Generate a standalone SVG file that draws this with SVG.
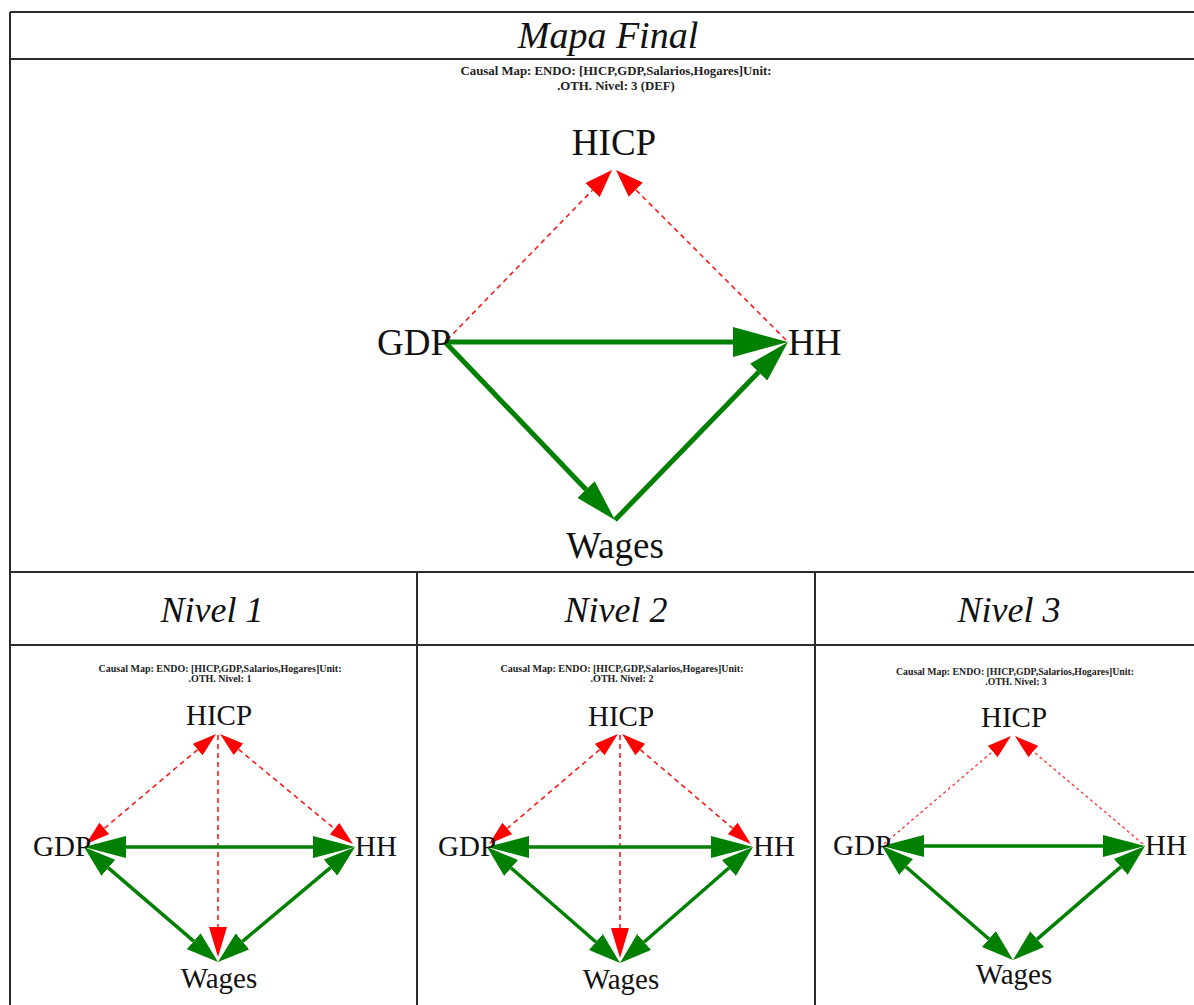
<svg xmlns="http://www.w3.org/2000/svg" width="1194" height="1005" viewBox="0 0 1194 1005">
<style>
.grid{stroke:#2b2b2b;stroke-width:2;fill:none}
.hdr{font-family:"Liberation Serif",serif;font-style:italic;fill:#111;text-anchor:middle}
.cap{font-family:"Liberation Serif",serif;font-weight:bold;fill:#222;text-anchor:middle}
.lbl{font-family:"Liberation Serif",serif;fill:#111}
.mid{text-anchor:middle}
.gT{stroke:#008000;stroke-width:5;fill:none}
.gB{stroke:#008000;stroke-width:3.5;fill:none}
.rd{stroke:#ff1a1a;stroke-width:1.6;stroke-dasharray:5 4;fill:none}
.rdot{stroke:#ff3333;stroke-width:1.3;stroke-dasharray:3 3;fill:none}
</style>
<defs>
<marker id="gTh" markerUnits="userSpaceOnUse" markerWidth="56" markerHeight="30" refX="0" refY="15" orient="auto-start-reverse"><path d="M0,0 L55,15 L0,30 Z" fill="#008000"/></marker>
<marker id="gTd" markerUnits="userSpaceOnUse" markerWidth="43" markerHeight="24" refX="0" refY="12" orient="auto-start-reverse"><path d="M0,0 L42,12 L0,24 Z" fill="#008000"/></marker>
<marker id="gBh" markerUnits="userSpaceOnUse" markerWidth="43" markerHeight="22" refX="0" refY="11" orient="auto-start-reverse"><path d="M0,0 L42,11 L0,22 Z" fill="#008000"/></marker>
<marker id="gBd" markerUnits="userSpaceOnUse" markerWidth="33" markerHeight="21" refX="0" refY="10.5" orient="auto-start-reverse"><path d="M0,0 L32,10.5 L0,21 Z" fill="#008000"/></marker>
<marker id="rT" markerUnits="userSpaceOnUse" markerWidth="29" markerHeight="20" refX="0" refY="10" orient="auto-start-reverse"><path d="M0,0 L28,10 L0,20 Z" fill="#ff0000"/></marker>
<marker id="rB" markerUnits="userSpaceOnUse" markerWidth="25" markerHeight="15" refX="0" refY="7.5" orient="auto-start-reverse"><path d="M0,0 L24,7.5 L0,15 Z" fill="#ff0000"/></marker>
<marker id="rV" markerUnits="userSpaceOnUse" markerWidth="31" markerHeight="18" refX="0" refY="9" orient="auto-start-reverse"><path d="M0,0 L30,9 L0,18 Z" fill="#ff0000"/></marker>
</defs>
<rect width="1194" height="1005" fill="#fff"/>

<g id="table">
<line class="grid" x1="10" y1="12" x2="1194" y2="12"/>
<line class="grid" x1="10" y1="59" x2="1194" y2="59"/>
<line class="grid" x1="10" y1="572" x2="1194" y2="572"/>
<line class="grid" x1="10" y1="645" x2="1194" y2="645"/>
<line class="grid" x1="10" y1="12" x2="10" y2="1005"/>
<line class="grid" x1="417" y1="572" x2="417" y2="1005"/>
<line class="grid" x1="815" y1="572" x2="815" y2="1005"/>
<text class="hdr" x="608" y="48" font-size="38">Mapa Final</text>
<text class="hdr" x="212" y="622" font-size="36">Nivel 1</text>
<text class="hdr" x="616" y="622" font-size="36">Nivel 2</text>
<text class="hdr" x="1009" y="622" font-size="36">Nivel 3</text>
</g>

<!-- Top: Mapa Final -->
<g id="final-title">
<text class="cap" x="616" y="75" font-size="12.8">Causal Map: ENDO: [HICP,GDP,Salarios,Hogares]Unit:</text>
<text class="cap" x="616" y="90" font-size="12.8">.OTH. Nivel: 3 (DEF)</text>
</g>
<g id="final-connectors">
<line class="rd" x1="447" y1="340" x2="592.5" y2="190.1" marker-end="url(#rT)"/>
<line class="rd" x1="786" y1="340" x2="635.8" y2="189.8" marker-end="url(#rT)"/>
<line class="gT" x1="445" y1="342" x2="733" y2="342" marker-end="url(#gTh)"/>
<line class="gT" x1="445" y1="342" x2="586" y2="489.6" marker-end="url(#gTd)"/>
<line class="gT" x1="615" y1="520" x2="758.7" y2="372.1" marker-end="url(#gTd)"/>
</g>
<g id="final-HICP"><text class="lbl mid" x="614" y="155" font-size="37">HICP</text></g>
<g id="final-GDP"><text class="lbl" x="377" y="355" font-size="37">GDP</text></g>
<g id="final-HH"><text class="lbl" x="788" y="355" font-size="37">HH</text></g>
<g id="final-Wages"><text class="lbl mid" x="615" y="558" font-size="37">Wages</text></g>

<!-- Nivel 1 -->
<g id="n1-title">
<text class="cap" x="220" y="672" font-size="10">Causal Map: ENDO: [HICP,GDP,Salarios,Hogares]Unit:</text>
<text class="cap" x="220" y="682" font-size="10">.OTH. Nivel: 1</text>
</g>
<g id="n1-connectors">
<line class="rd" x1="197.7" y1="749.6" x2="104.3" y2="828.4" marker-start="url(#rB)" marker-end="url(#rB)"/>
<line class="rd" x1="238.5" y1="749.3" x2="334.5" y2="828.7" marker-start="url(#rB)" marker-end="url(#rB)"/>
<line class="rd" x1="218" y1="735" x2="218" y2="927" marker-end="url(#rV)"/>
<line class="gB" x1="126" y1="847" x2="313" y2="847" marker-start="url(#gBh)" marker-end="url(#gBh)"/>
<line class="gB" x1="108.3" y1="867.8" x2="193.7" y2="941.2" marker-start="url(#gBd)" marker-end="url(#gBd)"/>
<line class="gB" x1="330.5" y1="867.6" x2="242.5" y2="941.4" marker-start="url(#gBd)" marker-end="url(#gBd)"/>
</g>
<g id="n1-HICP"><text class="lbl mid" x="219" y="725" font-size="29">HICP</text></g>
<g id="n1-GDP"><text class="lbl" x="33" y="856" font-size="29">GDP</text></g>
<g id="n1-HH"><text class="lbl" x="355" y="856" font-size="29">HH</text></g>
<g id="n1-Wages"><text class="lbl mid" x="219" y="988" font-size="29">Wages</text></g>

<!-- Nivel 2 -->
<g id="n2-title">
<text class="cap" x="622" y="672" font-size="10">Causal Map: ENDO: [HICP,GDP,Salarios,Hogares]Unit:</text>
<text class="cap" x="622" y="682" font-size="10">.OTH. Nivel: 2</text>
</g>
<g id="n2-connectors">
<line class="rd" x1="599.7" y1="749.6" x2="507.3" y2="828.4" marker-start="url(#rB)" marker-end="url(#rB)"/>
<line class="rd" x1="640.3" y1="749.6" x2="732.7" y2="828.4" marker-start="url(#rB)" marker-end="url(#rB)"/>
<line class="rd" x1="620" y1="735" x2="620" y2="928" marker-end="url(#rV)"/>
<line class="gB" x1="529" y1="847" x2="711" y2="847" marker-start="url(#gBh)" marker-end="url(#gBh)"/>
<line class="gB" x1="511.1" y1="868" x2="595.9" y2="942" marker-start="url(#gBd)" marker-end="url(#gBd)"/>
<line class="gB" x1="728.9" y1="868" x2="644.1" y2="942" marker-start="url(#gBd)" marker-end="url(#gBd)"/>
</g>
<g id="n2-HICP"><text class="lbl mid" x="621" y="726" font-size="29">HICP</text></g>
<g id="n2-GDP"><text class="lbl" x="438" y="856" font-size="29">GDP</text></g>
<g id="n2-HH"><text class="lbl" x="753" y="856" font-size="29">HH</text></g>
<g id="n2-Wages"><text class="lbl mid" x="621" y="989" font-size="29">Wages</text></g>

<!-- Nivel 3 -->
<g id="n3-title">
<text class="cap" x="1015" y="675" font-size="9.8">Causal Map: ENDO: [HICP,GDP,Salarios,Hogares]Unit:</text>
<text class="cap" x="1016" y="685" font-size="9.8">.OTH. Nivel: 3</text>
</g>
<g id="n3-connectors">
<line class="rdot" x1="884" y1="844" x2="992.7" y2="751.5" marker-end="url(#rB)"/>
<line class="rdot" x1="1143" y1="844" x2="1033.3" y2="751.5" marker-end="url(#rB)"/>
<line class="gB" x1="924" y1="846" x2="1103" y2="846" marker-start="url(#gBh)" marker-end="url(#gBh)"/>
<line class="gB" x1="906.1" y1="867" x2="988.9" y2="939" marker-start="url(#gBd)" marker-end="url(#gBd)"/>
<line class="gB" x1="1120.8" y1="866.9" x2="1037.2" y2="939.1" marker-start="url(#gBd)" marker-end="url(#gBd)"/>
</g>
<g id="n3-HICP"><text class="lbl mid" x="1014" y="727" font-size="29">HICP</text></g>
<g id="n3-GDP"><text class="lbl" x="833" y="855" font-size="29">GDP</text></g>
<g id="n3-HH"><text class="lbl" x="1145" y="855" font-size="29">HH</text></g>
<g id="n3-Wages"><text class="lbl mid" x="1014" y="984" font-size="29">Wages</text></g>
</svg>
